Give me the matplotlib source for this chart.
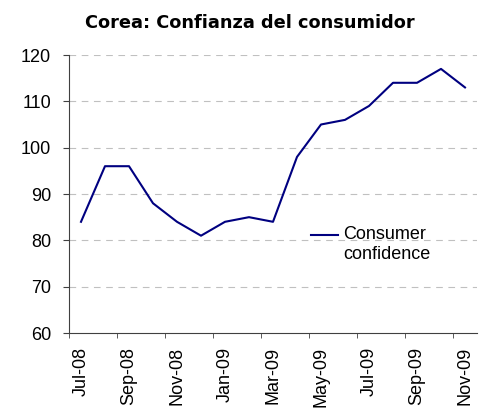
import matplotlib
matplotlib.use("Agg")
import matplotlib.pyplot as plt
from matplotlib.legend_handler import HandlerLine2D
import numpy as np

months = ["Jul-08", "Aug-08", "Sep-08", "Oct-08", "Nov-08", "Dec-08", "Jan-09", "Feb-09",
          "Mar-09", "Apr-09", "May-09", "Jun-09", "Jul-09", "Aug-09", "Sep-09", "Oct-09", "Nov-09"]
confidence = [84, 96, 96, 88, 84, 81, 84, 85, 84, 98, 105, 106, 109, 114, 114, 117, 113]
yticks = [60, 70, 80, 90, 100, 110, 120]

plt.rcParams['font.family'] = ['Liberation Sans', 'DejaVu Sans']


class FirstLineHandler(HandlerLine2D):
    def create_artists(self, legend, orig_handle, xdescent, ydescent, width, height,
                       fontsize, trans):
        arts = super().create_artists(legend, orig_handle, xdescent, ydescent, width,
                                      height, fontsize, trans)
        for a in arts:
            a.set_ydata(np.asarray(a.get_ydata()) + fontsize * 0.55)
        return arts


fig = plt.figure(figsize=(4.82, 4.09), dpi=100)
ax = fig.add_axes([69/482, 1 - 333/409, (477 - 69)/482, (333 - 55)/409])

x = np.arange(len(months))
line, = ax.plot(x, confidence, color="#000080", linewidth=1.5, label="Consumer\nconfidence")

ax.set_xlim(-0.5, len(months) - 0.5)
ax.set_ylim(60, 120)
ax.set_yticks(yticks)
ax.set_yticklabels([str(v) for v in yticks], fontsize=13)
for v in yticks[1:]:
    ax.axhline(v, color="#c0c0c0", linestyle=(0, (6, 5)), linewidth=0.8, zorder=0)

ax.set_xticks(x[::2])
ax.set_xticklabels(months[::2], rotation=90, fontsize=13)
ax.set_xticks(np.arange(-0.5, len(months) - 1, 2), minor=True)
ax.tick_params(axis='x', which='major', length=0, pad=10)
ax.tick_params(axis='x', which='minor', length=3.5, direction='out', color="#404040")
ax.tick_params(axis='y', length=4.5, direction='out', color="#404040", pad=8.5)

for s in ["top", "right"]:
    ax.spines[s].set_visible(False)
for s in ["left", "bottom"]:
    ax.spines[s].set_color("#404040")
    ax.spines[s].set_linewidth(0.8)

leg = ax.legend(handles=[line], loc="upper left",
                bbox_to_anchor=((311 - 69)/408, (333 - 226)/278),
                frameon=False, fontsize=13, handlelength=1.5, handletextpad=0.3,
                borderaxespad=0, borderpad=0, labelspacing=0.2,
                handler_map={line: FirstLineHandler()})

fig.text(250/482, 1 - 23/409, "Corea: Confianza del consumidor", ha="center", va="center",
         fontsize=12.8, fontweight="bold", family="DejaVu Sans")

fig.savefig("out.png", dpi=100)
